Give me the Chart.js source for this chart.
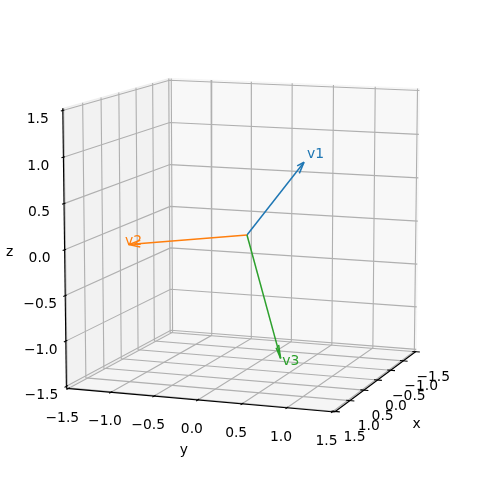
<!DOCTYPE html>
<html>
<head>
    <title>3D vectors</title>
    <script src="https://cdn.jsdelivr.net/npm/chart.js@4/dist/chart.umd.min.js"></script>
    <style>
        body { margin: 0; background: #fff; }
        canvas { display: block; }
    </style>
</head>
<body>
    <canvas id="myChart" width="481" height="482"></canvas>

    <script>
        // data
        var xTicks = [-1.5, -1, -0.5, 0, 0.5, 1, 1.5];
        var yTicks = [-1.5, -1, -0.5, 0, 0.5, 1, 1.5];
        var zTicks = [-1.5, -1, -0.5, 0, 0.5, 1, 1.5];
        var tickLabels = ['\u22121.5', '\u22121.0', '\u22120.5', '0.0', '0.5', '1.0', '1.5'];
        var vectorNames = ['v1', 'v2', 'v3'];
        var vectorX = [1, 1, 0.61];
        var vectorY = [1, -1, 0.61];
        var vectorZ = [1, 0, -1.22];
        var vectorColors = ['#1f77b4', '#ff7f0e', '#2ca02c'];
        var labelReach = [1.05, 1.03, 1.05];

        // camera, same maths as a matplotlib 3d axes
        var elev = 10 * Math.PI / 180;
        var azim = 20 * Math.PI / 180;
        var dist = 10;
        var limit = 1.5;
        var pad = 0.0225;
        var edge = limit + pad;
        var boxScale = 0.5501 / limit;

        var w = [Math.cos(elev) * Math.cos(azim), Math.cos(elev) * Math.sin(azim), Math.sin(elev)];
        var u = [-Math.sin(azim), Math.cos(azim), 0];
        var v = [-Math.sin(elev) * Math.cos(azim), -Math.sin(elev) * Math.sin(azim), Math.cos(elev)];

        function dot(a, b) {
            return a[0] * b[0] + a[1] * b[1] + a[2] * b[2];
        }

        function project(p) {
            var q = [p[0] * boxScale, p[1] * boxScale, p[2] * boxScale];
            var d = dist - dot(q, w);
            return { x: dot(q, u) / d, y: dot(q, v) / d };
        }

        var datasets = [];

        function addLine(points, color, width) {
            datasets.push({
                data: points.map(project),
                borderColor: color,
                borderWidth: width,
                backgroundColor: 'transparent',
                showLine: true,
                fill: false,
                pointRadius: 0,
                tension: 0,
                borderCapStyle: 'butt',
                clip: false
            });
        }

        function addPane(points, color) {
            datasets.push({
                data: points.concat([points[0]]).map(project),
                borderColor: color,
                borderWidth: 1,
                backgroundColor: color,
                showLine: true,
                fill: 'shape',
                pointRadius: 0,
                tension: 0,
                clip: false
            });
        }

        // panes
        addPane([[-edge, -edge, -edge], [-edge, edge, -edge], [-edge, edge, edge], [-edge, -edge, edge]], 'rgba(242,242,242,0.5)');
        addPane([[-edge, -edge, -edge], [edge, -edge, -edge], [edge, -edge, edge], [-edge, -edge, edge]], 'rgba(230,230,230,0.5)');
        addPane([[-edge, -edge, -edge], [edge, -edge, -edge], [edge, edge, -edge], [-edge, edge, -edge]], 'rgba(236,236,236,0.5)');

        // grid
        var gridColor = '#b0b0b0';
        var gridWidth = 1.11;
        xTicks.forEach(function(t) {
            addLine([[t, -edge, edge], [t, -edge, -edge], [t, edge, -edge]], gridColor, gridWidth);
        });
        yTicks.forEach(function(t) {
            addLine([[-edge, t, edge], [-edge, t, -edge], [edge, t, -edge]], gridColor, gridWidth);
        });
        zTicks.forEach(function(t) {
            addLine([[edge, -edge, t], [-edge, -edge, t], [-edge, edge, t]], gridColor, gridWidth);
        });

        // axis lines and tick marks
        var tickIn = 0.04;
        var tickOut = 0.05;
        addLine([[-edge, edge, -edge], [edge, edge, -edge]], '#000', 1.11);
        addLine([[edge, -edge, -edge], [edge, edge, -edge]], '#000', 1.11);
        addLine([[edge, -edge, -edge], [edge, -edge, edge]], '#000', 1.11);
        xTicks.forEach(function(t) {
            addLine([[t, edge - tickIn, -edge], [t, edge + tickOut, -edge]], '#000', 1.11);
        });
        yTicks.forEach(function(t) {
            addLine([[edge - tickIn, t, -edge], [edge + tickOut, t, -edge]], '#000', 1.11);
        });
        zTicks.forEach(function(t) {
            addLine([[edge - tickIn, -edge, t], [edge + tickOut, -edge, t]], '#000', 1.11);
        });

        // arrows: shaft plus two head strokes turned 15 degrees, head is 0.1 of the length
        var headRatio = 0.1;
        var c15 = Math.cos(15 * Math.PI / 180);
        var s15 = Math.sin(15 * Math.PI / 180);

        function rotateHead(d, sign) {
            var n = Math.hypot(d[0], d[1]);
            var xp = n ? d[1] / n : 0;
            var yp = n ? -d[0] / n : 0;
            var s = s15 * sign;
            return [
                (c15 + xp * xp * (1 - c15)) * d[0] + xp * yp * (1 - c15) * d[1] + yp * s * d[2],
                xp * yp * (1 - c15) * d[0] + (c15 + yp * yp * (1 - c15)) * d[1] - xp * s * d[2],
                -yp * s * d[0] + xp * s * d[1] + c15 * d[2]
            ];
        }

        vectorNames.forEach(function(name, i) {
            var tip = [vectorX[i], vectorY[i], vectorZ[i]];
            addLine([[0, 0, 0], tip], vectorColors[i], 1.5);
            [1, -1].forEach(function(sign) {
                var h = rotateHead(tip, sign);
                addLine([tip, [tip[0] - headRatio * h[0], tip[1] - headRatio * h[1], tip[2] - headRatio * h[2]]], vectorColors[i], 1.5);
            });
        });

        // first dataset goes at the back
        datasets.forEach(function(d, i) {
            d.order = datasets.length - i;
        });

        var fontName = '13.89px "DejaVu Sans"';

        var textPlugin = {
            id: 'axisText',
            afterDraw: function(chart) {
                var ctx = chart.ctx;
                var sx = chart.scales.x;
                var sy = chart.scales.y;

                function put(p, text, dx, dy, color, align, base) {
                    var q = project(p);
                    ctx.fillStyle = color;
                    ctx.textAlign = align;
                    ctx.textBaseline = base;
                    ctx.fillText(text, sx.getPixelForValue(q.x) + dx, sy.getPixelForValue(q.y) + dy);
                }

                ctx.save();
                ctx.font = fontName;
                xTicks.forEach(function(t, i) {
                    put([t, edge + 0.21, -edge], tickLabels[i], 0, 24.5, '#000', 'center', 'middle');
                });
                yTicks.forEach(function(t, i) {
                    put([edge, t, -edge], tickLabels[i], -6, 29.5, '#000', 'center', 'middle');
                });
                zTicks.forEach(function(t, i) {
                    put([edge, -edge, t], tickLabels[i], -25, 9, '#000', 'center', 'middle');
                });
                put([0, edge, -edge], 'x', 39, 44, '#000', 'center', 'middle');
                put([edge, 0, -edge], 'y', -14, 50, '#000', 'center', 'middle');
                put([edge, -edge, 0], 'z', -55, 3, '#000', 'center', 'middle');
                vectorNames.forEach(function(name, i) {
                    var r = labelReach[i];
                    put([vectorX[i] * r, vectorY[i] * r, vectorZ[i] * r], name, 0, 0, vectorColors[i], 'left', 'alphabetic');
                });
                ctx.restore();
            }
        };

        // px per projected unit, centre of the box at (247, 235)
        var pxPerUnit = 2465;
        var ctx = document.getElementById('myChart').getContext('2d');
        var chart = new Chart(ctx, {
            type: 'scatter',
            data: { datasets: datasets },
            options: {
                responsive: false,
                animation: false,
                layout: { padding: 0 },
                plugins: { legend: { display: false }, tooltip: { enabled: false } },
                scales: {
                    x: { type: 'linear', display: false, min: -247 / pxPerUnit, max: 234 / pxPerUnit },
                    y: { type: 'linear', display: false, min: -247 / pxPerUnit, max: 235 / pxPerUnit }
                }
            },
            plugins: [textPlugin]
        });
    </script>
</body>
</html>
